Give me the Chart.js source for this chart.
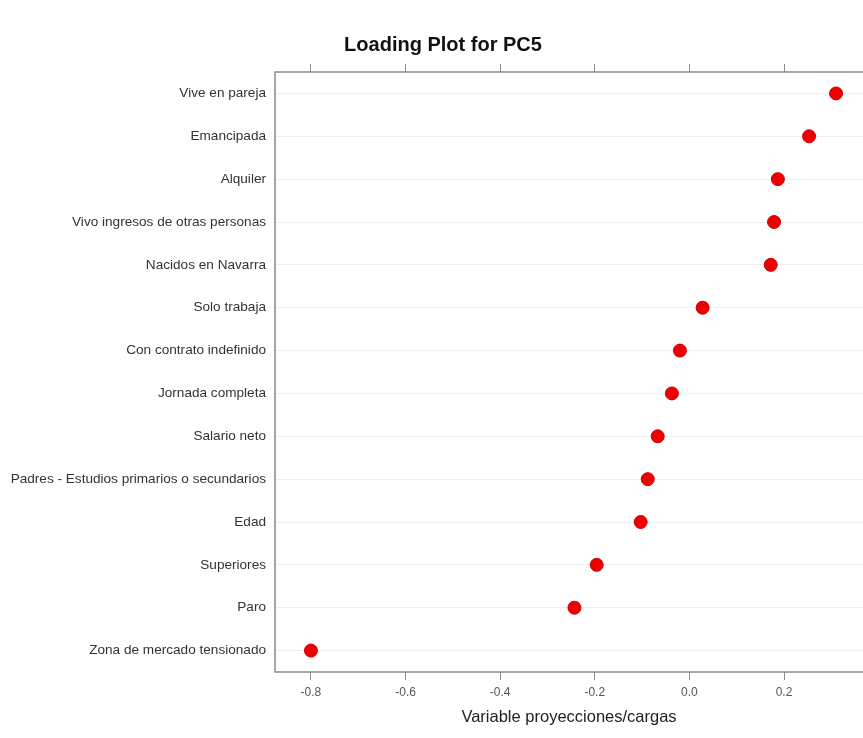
<html>
<head>
<meta charset="utf-8">
<title>Loading Plot for PC5</title>
<script src="https://cdn.jsdelivr.net/npm/chart.js@4"></script>
<style>
  body{margin:0;background:#fff;overflow:hidden;}
  canvas{display:block;}
</style>
</head>
<body>
<canvas id="ctx" width="863" height="738"></canvas>
<script>
// variables, top to bottom
var variables = ['Vive en pareja','Emancipada','Alquiler','Vivo ingresos de otras personas',
  'Nacidos en Navarra','Solo trabaja','Con contrato indefinido','Jornada completa',
  'Salario neto','Padres - Estudios primarios o secundarios','Edad','Superiores','Paro',
  'Zona de mercado tensionado'];
var loadings = [0.31,0.253,0.187,0.179,0.172,0.028,-0.020,-0.037,-0.067,-0.088,-0.103,-0.196,-0.243,-0.80];
var xTicks = [-0.8,-0.6,-0.4,-0.2,0.0,0.2];

var pts = [];
for (var i = 0; i < variables.length; i++) pts.push({x: loadings[i], y: variables[i]});

var FONT = '"Liberation Sans", Arial, sans-serif';

// panel frame (right side runs off the picture, like the source) + main title
var frame = {
  id: 'frame',
  afterDraw: function(c){
    var a = c.chartArea, g = c.ctx;
    g.save();
    g.strokeStyle = '#8a8a8a'; g.lineWidth = 1.5;
    g.beginPath();
    g.moveTo(c.width + 2, a.top); g.lineTo(a.left, a.top);
    g.lineTo(a.left, a.bottom); g.lineTo(c.width + 2, a.bottom);
    g.stroke();
    g.fillStyle = '#111';
    g.font = 'bold 20px ' + FONT;
    g.textAlign = 'center'; g.textBaseline = 'middle';
    g.fillText('Loading Plot for PC5', 443, 45);
    g.restore();
  }
};

function noPad(s){ s.paddingLeft = 0; s.paddingRight = 0; }

new Chart(document.getElementById('ctx'), {
  type: 'scatter',
  data: {
    datasets: [{
      data: pts,
      pointRadius: 6.5,
      pointHoverRadius: 6.5,
      backgroundColor: '#ee0000',
      borderColor: '#cc0000',
      borderWidth: 1
    }]
  },
  options: {
    responsive: false,
    animation: false,
    layout: {autoPadding: false, padding: {top: 62, right: 0, left: 0, bottom: 0}},
    plugins: {legend: {display: false}, title: {display: false}, tooltip: {enabled: false}},
    scales: {
      x: {
        type: 'linear', position: 'bottom',
        min: -0.876, max: 0.367,
        afterBuildTicks: function(s){ s.ticks = xTicks.map(function(v){ return {value: v}; }); },
        afterFit: function(s){ s.height = 66; noPad(s); },
        ticks: {
          font: {family: FONT, size: 12}, color: '#555', padding: 5, maxRotation: 0,
          callback: function(v){ return Math.abs(v) < 1e-9 ? '0.0' : Number(v).toFixed(1); }
        },
        grid: {drawOnChartArea: false, drawTicks: true, tickLength: 8, color: '#8a8a8a', lineWidth: 1},
        border: {display: false},
        title: {display: true, text: 'Variable proyecciones/cargas', color: '#222',
          font: {family: FONT, size: 16.5}, padding: {top: 2, bottom: 11}}
      },
      x2: {
        type: 'linear', position: 'top',
        min: -0.876, max: 0.367,
        afterBuildTicks: function(s){ s.ticks = xTicks.map(function(v){ return {value: v}; }); },
        afterFit: function(s){ s.height = 10; noPad(s); },
        ticks: {display: false},
        grid: {drawOnChartArea: false, drawTicks: true, tickLength: 8, color: '#8a8a8a', lineWidth: 1},
        border: {display: false}
      },
      y: {
        type: 'category', labels: variables, offset: true,
        afterFit: function(s){ s.width = 275; },
        ticks: {font: {family: FONT, size: 13.6}, color: '#333', padding: 9},
        grid: {color: '#efefef', lineWidth: 1, drawTicks: false},
        border: {display: false}
      }
    }
  },
  plugins: [frame]
});
</script>
</body>
</html>
